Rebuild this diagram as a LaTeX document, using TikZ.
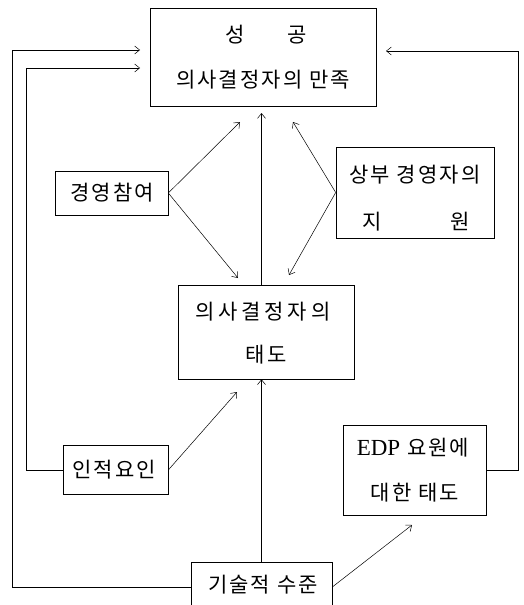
\documentclass[tikz,border=0pt]{standalone}
\usepackage{fontspec}
\newfontfamily\kr[LetterSpace=10]{Noto Sans CJK KR}
\newfontfamily\krw[LetterSpace=18]{Noto Sans CJK KR}
\newfontfamily\lat{Liberation Serif}
\usetikzlibrary{arrows.meta}
\begin{document}
\begin{tikzpicture}[x=1pt,y=-1pt,
  box/.style={draw, line width=0.6pt, inner sep=0pt},
  txt/.style={font=\kr\fontsize{21}{24}\selectfont, inner sep=0pt, anchor=center},
  arr/.style={line width=0.5pt, -{Straight Barb[length=5pt,width=8pt]}},
  ln/.style={line width=0.5pt}]
\useasboundingbox (0,0) rectangle (523,605);
% boxes
\node[box, minimum width=226, minimum height=98] (top) at (263,57) {};
\node[box, minimum width=113, minimum height=44] (gy) at (111.5,193) {};
\node[box, minimum width=158, minimum height=91] (sb) at (415,192.5) {};
\node[box, minimum width=176, minimum height=94] (td) at (266,332) {};
\node[box, minimum width=105, minimum height=49] (ij) at (115.5,470) {};
\node[box, minimum width=143, minimum height=90] (edp) at (414.5,470) {};
\node[box, minimum width=141, minimum height=50] (gs) at (261.5,587) {};
% texts
\node[txt] (top1) at (266,35) {성\hspace{42pt}공};
\node[txt] (top2) at (263,80) {의사결정자의 만족};
\node[txt] (gyt) at (112,193) {경영참여};
\node[txt] (sb1) at (415,175) {상부 경영자의};
\node[txt] (sb2) at (416,222) {지\hspace{68pt}원};
\node[txt, font=\krw\fontsize{21}{24}\selectfont] (td1) at (263,312) {의사결정자의};
\node[txt] (td2) at (266,355) {태도};
\node[txt] (ijt) at (114,470) {인적요인};
\node[txt] (edp1) at (413,448) {{\lat\fontsize{23}{26}\selectfont EDP} 요원에};
\node[txt] (edp2) at (415,493) {대한 태도};
\node[txt] (gst) at (263,585) {기술적 수준};
% free ends
\coordinate (o1) at (12,50);
\coordinate (o2) at (140,50);
\coordinate (i1) at (26,68);
\coordinate (i2) at (140,68);
\coordinate (r1) at (518,51);
\coordinate (r2) at (386,51);
\coordinate (gyA) at (240,122);
\coordinate (gyB) at (238,278);
\coordinate (cA) at (261.5,113);
\coordinate (sbA) at (293,122);
\coordinate (sbB) at (289,275);
\coordinate (ijA) at (237,392);
\coordinate (gsA) at (412,525);
% connectors
\draw[arr] (gs.west) -| (o1) -- (o2);
\draw[arr] (ij.west) -| (i1) -- (i2);
\draw[arr] (edp.east) -| (r1) -- (r2);
\draw[arr] (gy.east) -- (gyA);
\draw[arr] (gy.east) -- (gyB);
\draw[arr] (td.north -| gs.north) -- (cA);
\draw[arr] (sb.west) -- (sbA);
\draw[arr] (sb.west) -- (sbB);
\draw[arr] (ij.east) -- (ijA);
\draw[arr] (gs.north) -- (td.south -| gs.north);
\draw[arr] (gs.east) -- (gsA);
\end{tikzpicture}
\end{document}
